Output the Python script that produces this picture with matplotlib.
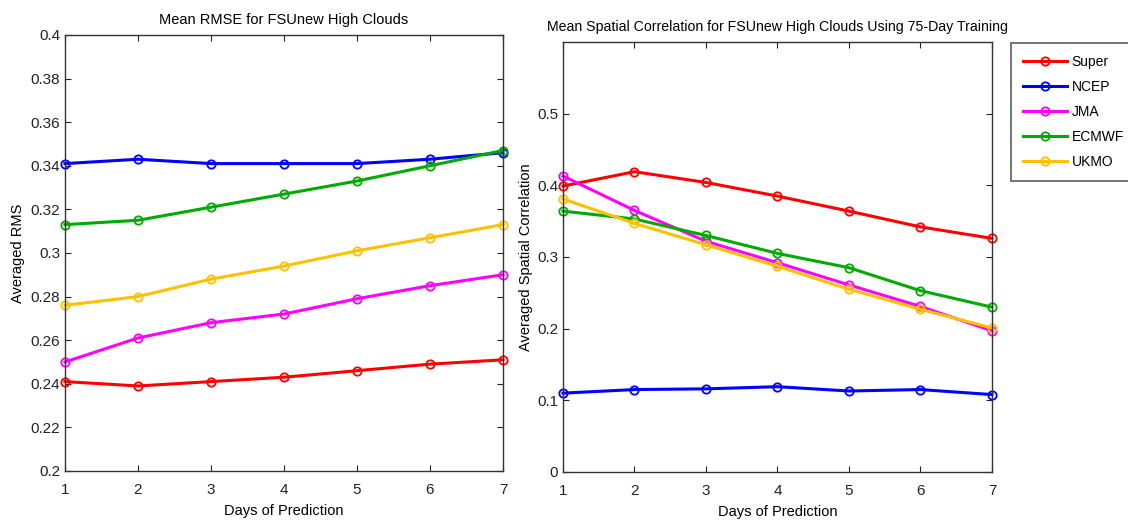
import matplotlib.pyplot as plt

plt.rcParams['font.family'] = ['Liberation Sans', 'DejaVu Sans']

days = [1, 2, 3, 4, 5, 6, 7]
models = ['Super', 'NCEP', 'JMA', 'ECMWF', 'UKMO']
colors = ['#ff0000', '#0000ff', '#ff00ff', '#00aa00', '#ffc000']

# mean RMSE per model
rmse_super = [0.241, 0.239, 0.241, 0.243, 0.246, 0.249, 0.251]
rmse_ncep = [0.341, 0.343, 0.341, 0.341, 0.341, 0.343, 0.346]
rmse_jma = [0.250, 0.261, 0.268, 0.272, 0.279, 0.285, 0.290]
rmse_ecmwf = [0.313, 0.315, 0.321, 0.327, 0.333, 0.340, 0.347]
rmse_ukmo = [0.276, 0.280, 0.288, 0.294, 0.301, 0.307, 0.313]

# mean spatial correlation per model
corr_super = [0.399, 0.419, 0.404, 0.385, 0.364, 0.342, 0.326]
corr_ncep = [0.110, 0.115, 0.116, 0.119, 0.113, 0.115, 0.108]
corr_jma = [0.413, 0.365, 0.322, 0.292, 0.261, 0.231, 0.197]
corr_ecmwf = [0.364, 0.353, 0.330, 0.305, 0.285, 0.253, 0.230]
corr_ukmo = [0.381, 0.347, 0.317, 0.287, 0.255, 0.227, 0.201]

rmse_ticks = [0.2, 0.22, 0.24, 0.26, 0.28, 0.3, 0.32, 0.34, 0.36, 0.38, 0.4]
rmse_labels = ['0.2', '0.22', '0.24', '0.26', '0.28', '0.3', '0.32', '0.34', '0.36', '0.38', '0.4']
corr_ticks = [0, 0.1, 0.2, 0.3, 0.4, 0.5]
corr_labels = ['0', '0.1', '0.2', '0.3', '0.4', '0.5']

tick_fs = 11
label_fs = 10.5


def style_axes(ax):
    ax.set_xlim(1, 7)
    ax.set_xticks(days)
    ax.tick_params(direction='in', top=True, right=True, length=4,
                   width=0.8, labelsize=tick_fs, colors='#222222')
    ax.tick_params(axis='x', pad=9)
    ax.tick_params(axis='y', pad=3.5)
    for sp in ax.spines.values():
        sp.set_color('#333333')
        sp.set_linewidth(1.0)
    ax.set_xlabel('Days of Prediction', fontsize=label_fs, labelpad=5)


fig = plt.figure(figsize=(11.28, 5.25), dpi=100)

ax1 = fig.add_axes([0.0576, 0.1029, 0.3883, 0.8305])
for vals, c in zip([rmse_super, rmse_ncep, rmse_jma, rmse_ecmwf, rmse_ukmo], colors):
    ax1.plot(days, vals, '-o', color=c, lw=2.2, ms=6, mfc='none', mew=1.3, clip_on=False)
ax1.set_ylim(0.2, 0.4)
ax1.set_yticks(rmse_ticks)
ax1.set_yticklabels(rmse_labels)
style_axes(ax1)
ax1.set_ylabel('Averaged RMS', fontsize=label_fs, labelpad=4)
ax1.set_title('Mean RMSE for FSUnew High Clouds', fontsize=label_fs, pad=8)

ax2 = fig.add_axes([0.4991, 0.1010, 0.3803, 0.8190])
lines = []
for vals, c, name in zip([corr_super, corr_ncep, corr_jma, corr_ecmwf, corr_ukmo], colors, models):
    ln, = ax2.plot(days, vals, '-o', color=c, lw=2.2, ms=6, mfc='none', mew=1.3,
                   clip_on=False, label=name)
    lines.append(ln)
ax2.set_ylim(0, 0.6)
ax2.set_yticks(corr_ticks)
ax2.set_yticklabels(corr_labels)
style_axes(ax2)
ax2.set_ylabel('Averaged Spatial Correlation', fontsize=label_fs, labelpad=3)
ax2.set_title('Mean Spatial Correlation for FSUnew High Clouds Using 75-Day Training',
              fontsize=10.2, pad=8)

leg = fig.legend(handles=lines, loc='upper left', bbox_to_anchor=(1011 / 1128, 1 - 43 / 525),
                 borderaxespad=0, fontsize=10, frameon=True, fancybox=False,
                 handlelength=3.2, labelspacing=0.8, borderpad=0.85, handletextpad=0.3)
leg.get_frame().set_edgecolor('#333333')
leg.get_frame().set_linewidth(1.2)

fig.savefig('out.png', dpi=100)
